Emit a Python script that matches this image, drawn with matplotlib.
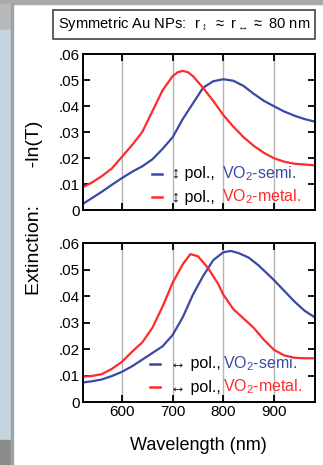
import matplotlib
matplotlib.use('Agg')
import matplotlib.pyplot as plt
from matplotlib.patches import Rectangle

plt.rcParams['font.family'] = ['Liberation Sans', 'DejaVu Sans']
plt.rcParams['mathtext.fontset'] = 'custom'
plt.rcParams['mathtext.rm'] = 'Liberation Sans'
plt.rcParams['mathtext.default'] = 'regular'

# wavelength (nm) and extinction
wl_top_semi = [520, 540, 560, 580, 600, 620, 640, 660, 680, 700, 720, 740, 760, 780, 800, 820, 840, 860, 880, 900, 920, 940, 960, 980]
ext_top_semi = [0.002, 0.0045, 0.007, 0.0097, 0.0123, 0.0147, 0.0168, 0.0195, 0.0235, 0.028, 0.035, 0.041, 0.047,
                0.0495, 0.0503, 0.0497, 0.0477, 0.0447, 0.042, 0.0399, 0.0379, 0.0363, 0.035, 0.034]
wl_top_metal = [520, 540, 560, 580, 600, 620, 640, 660, 680, 700, 710, 720, 730, 740, 760, 780, 800, 820, 840, 860, 880, 900, 920, 940, 960, 980]
ext_top_metal = [0.0085, 0.0105, 0.013, 0.016, 0.0205, 0.025, 0.030, 0.038, 0.046, 0.0515, 0.053, 0.0535, 0.053, 0.0515,
                 0.047, 0.042, 0.0365, 0.032, 0.028, 0.0247, 0.022, 0.0199, 0.0186, 0.0178, 0.0175, 0.0172]

wl_bot_semi = [520, 540, 560, 580, 600, 620, 640, 660, 680, 700, 720, 740, 760, 780, 800, 815, 830, 850, 870, 900, 920, 940, 960, 980]
ext_bot_semi = [0.0073, 0.0078, 0.0085, 0.0098, 0.0114, 0.0135, 0.016, 0.0185, 0.021, 0.0253, 0.032, 0.0405, 0.0475,
                0.0535, 0.0565, 0.057, 0.0562, 0.0545, 0.0515, 0.046, 0.042, 0.038, 0.0345, 0.032]
wl_bot_metal = [520, 540, 560, 580, 600, 620, 640, 660, 680, 700, 720, 735, 750, 770, 790, 800, 820, 840, 860, 880, 900, 920, 940, 960, 980]
ext_bot_metal = [0.0095, 0.0098, 0.0105, 0.0125, 0.0152, 0.019, 0.0225, 0.028, 0.036, 0.045, 0.052, 0.0558, 0.055,
                 0.0505, 0.0445, 0.0405, 0.035, 0.0315, 0.028, 0.0235, 0.0197, 0.0176, 0.0167, 0.0165, 0.0165]

yticks = [0, 0.01, 0.02, 0.03, 0.04, 0.05, 0.06]
ytick_labels = ['0', '.01', '.02', '.03', '.04', '.05', '.06']
xticks = [600, 700, 800, 900]

BLUE = '#3a48a8'
RED = '#ff2a2a'
W, H = 323, 465

fig = plt.figure(figsize=(W / 100, H / 100), dpi=100)

# screenshot background strips
fig.patches.append(Rectangle((0, 0), 1, 1, transform=fig.transFigure, color='white', zorder=-10))
fig.patches.append(Rectangle((0, 1 - 4 / H), 1, 4 / H, transform=fig.transFigure, color='#a9a9a9', zorder=-9))
fig.patches.append(Rectangle((0, 1 - 30 / H), 12 / W, 26 / H, transform=fig.transFigure, color='#b9b9b9', zorder=-9))
fig.patches.append(Rectangle((0, 25 / H), 12 / W, 410 / H, transform=fig.transFigure, color='#c6d4de', zorder=-9))
fig.patches.append(Rectangle((0, 0), 12 / W, 25 / H, transform=fig.transFigure, color='#8c8c8c', zorder=-9))
fig.patches.append(Rectangle((11 / W, 0), 1.5 / W, 1 - 4 / H, transform=fig.transFigure, color='#9aa4aa', zorder=-8))


def px_axes(x0, y0, x1, y1):
    return fig.add_axes([x0 / W, 1 - y1 / H, (x1 - x0) / W, (y1 - y0) / H])


ax_top = px_axes(82.5, 54, 315, 210)
ax_bot = px_axes(82.5, 243, 315, 402)

for ax in (ax_top, ax_bot):
    ax.set_xlim(522, 981)
    ax.set_ylim(0, 0.06)
    ax.set_xticks(xticks)
    ax.set_yticks(yticks)
    ax.set_yticklabels(ytick_labels)
    for x in xticks:
        ax.axvline(x, color='#b4b4b4', lw=1.0, zorder=0)
    ax.tick_params(direction='in', top=True, right=True, length=5, width=1.3, labelsize=11, pad=2)
    for s in ax.spines.values():
        s.set_linewidth(1.4)
ax_top.tick_params(labelbottom=False)

ax_top.plot(wl_top_semi, ext_top_semi, color=BLUE, lw=1.6)
ax_top.plot(wl_top_metal, ext_top_metal, color=RED, lw=1.6)
ax_bot.plot(wl_bot_semi, ext_bot_semi, color=BLUE, lw=1.6)
ax_bot.plot(wl_bot_metal, ext_bot_metal, color=RED, lw=1.6)


def legend_row(ax, y, arrow, name, color, xs):
    ax.plot([xs[0], xs[1]], [y, y], color=color, lw=1.8, transform=ax.transAxes, clip_on=False)
    ax.text(xs[2], y, arrow + ' pol.,', transform=ax.transAxes, fontsize=11.5, va='center', ha='left')
    ax.text(xs[3], y, 'VO$_2$-' + name, transform=ax.transAxes, fontsize=11.5, va='center', ha='left', color=color)


legend_row(ax_top, 0.231, '\u2195', 'semi.', BLUE, (0.30, 0.342, 0.385, 0.60))
legend_row(ax_top, 0.083, '\u2195', 'metal.', RED, (0.30, 0.342, 0.385, 0.60))
legend_row(ax_bot, 0.239, '\u2194', 'semi.', BLUE, (0.29, 0.333, 0.375, 0.604))
legend_row(ax_bot, 0.094, '\u2194', 'metal.', RED, (0.29, 0.333, 0.375, 0.604))

# title box
fig.patches.append(Rectangle((52.7 / W, 1 - 39 / H), (315 - 52.7) / W, 29 / H, transform=fig.transFigure,
                             facecolor='white', edgecolor='#444444', lw=1.2))
fig.text(184 / W, 1 - 24.5 / H, r'Symmetric Au NPs:  r$_{\updownarrow}$ $\approx$ r$_{\leftrightarrow}$$\approx$ 80 nm',
         fontsize=10.6, ha='center', va='center')

fig.text(35 / W, 1 - 208 / H, 'Extinction:       -ln(T)', rotation=90, fontsize=14, ha='center', va='center')
fig.text(198 / W, 1 - 445 / H, 'Wavelength (nm)', fontsize=13, ha='center', va='center')

fig.savefig('out.png', dpi=100)
